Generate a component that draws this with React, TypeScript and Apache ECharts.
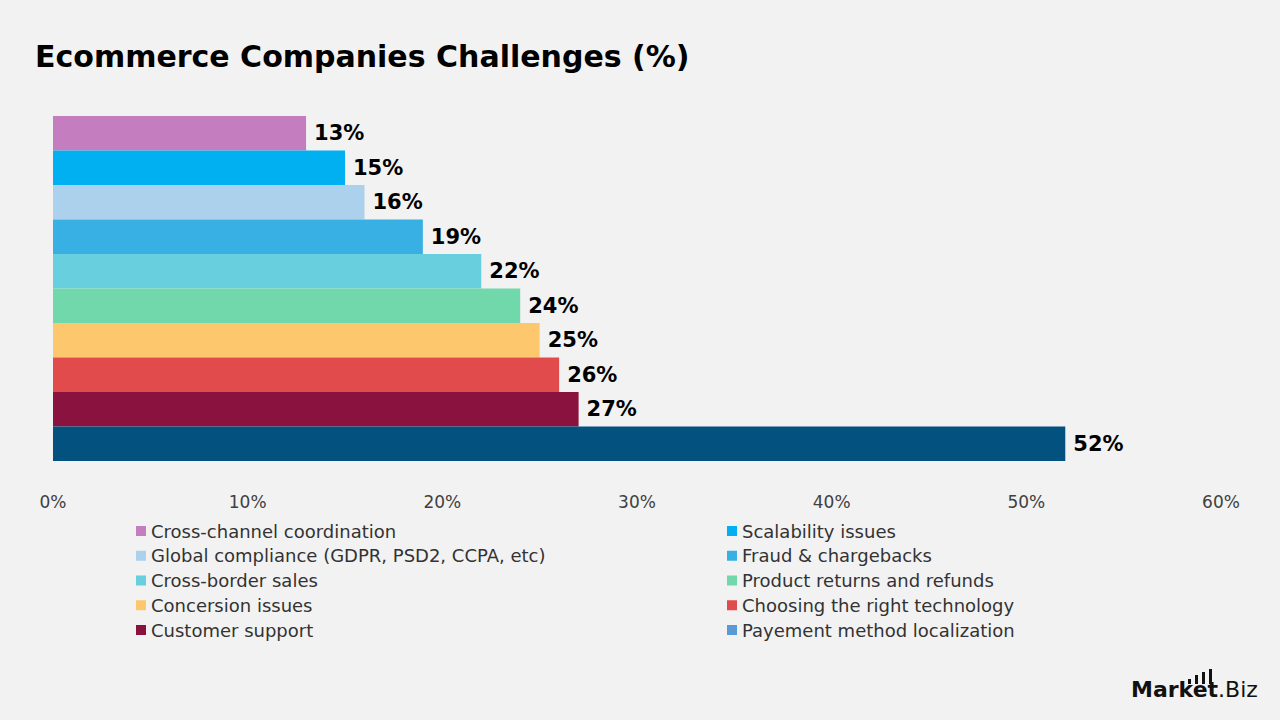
import React, { useEffect, useRef } from "react";
import * as echarts from "echarts";

const categories = [
  "Cross-channel coordination",
  "Scalability issues",
  "Global compliance (GDPR, PSD2, CCPA, etc)",
  "Fraud & chargebacks",
  "Cross-border sales",
  "Product returns and refunds",
  "Concersion issues",
  "Choosing the right technology",
  "Customer support",
  "Payement method localization",
];
const values = [13, 15, 16, 19, 22, 24, 25, 26, 27, 52];
const barColors = [
  "#c47dbf",
  "#00b0f0",
  "#abd1ec",
  "#38b0e3",
  "#67cfdd",
  "#71d8ab",
  "#fdc76d",
  "#e24b4b",
  "#8a123e",
  "#02517f",
];
const legendColors = [
  "#c47dbf",
  "#00b0f0",
  "#abd1ec",
  "#38b0e3",
  "#67cfdd",
  "#71d8ab",
  "#fdc76d",
  "#e24b4b",
  "#8a123e",
  "#5b9bd5",
];
const xTicks = [0, 10, 20, 30, 40, 50, 60];

const FONT = "'DejaVu Sans', sans-serif";

export default function App() {
  const ref = useRef<HTMLDivElement>(null);
  useEffect(() => {
    if (!ref.current) return;
    const chart = echarts.init(ref.current, null, { renderer: "svg" });
    const legendItem = (i: number) => ({
      name: categories[i],
      itemStyle: { color: legendColors[i] },
    });
    const legendBase = {
      orient: "vertical",
      top: 521,
      padding: 0,
      icon: "rect",
      itemWidth: 10,
      itemHeight: 10,
      itemGap: 4.75,
      selectedMode: false,
      textStyle: {
        fontFamily: FONT,
        fontSize: 18,
        color: "#333333",
        lineHeight: 20,
      },
    };
    chart.setOption({
      animation: false,
      backgroundColor: "#f2f2f2",
      title: {
        text: "Ecommerce Companies Challenges (%)",
        left: 35,
        top: 41,
        padding: 0,
        textStyle: {
          fontFamily: FONT,
          fontSize: 30,
          fontWeight: "bold",
          color: "#000000",
        },
      },
      legend: [
        {
          ...legendBase,
          left: 136,
          data: [0, 2, 4, 6, 8].map(legendItem),
        },
        {
          ...legendBase,
          left: 727,
          data: [1, 3, 5, 7, 9].map(legendItem),
        },
      ],
      grid: { left: 53, right: 59, top: 116, bottom: 259, containLabel: false },
      xAxis: {
        type: "value",
        min: xTicks[0],
        max: xTicks[xTicks.length - 1],
        interval: 10,
        splitLine: { show: false },
        axisLine: { show: false },
        axisTick: { show: false },
        axisLabel: {
          formatter: "{value}%",
          margin: 32,
          fontFamily: FONT,
          fontSize: 17,
          color: "#404040",
        },
      },
      yAxis: {
        type: "category",
        data: ["All"],
        inverse: true,
        show: false,
      },
      series: categories.map((name, i) => ({
        type: "bar",
        name,
        data: [values[i]],
        barGap: "0%",
        barCategoryGap: "0%",
        itemStyle: { color: barColors[i] },
        label: {
          show: true,
          position: "right",
          distance: 8,
          formatter: "{c}%",
          fontFamily: FONT,
          fontSize: 21,
          fontWeight: "bold",
          color: "#000000",
        },
      })),
      graphic: [
        {
          type: "text",
          left: 1131,
          top: 678,
          style: {
            text: "{b|Market}{n|.Biz}",
            rich: {
              b: { fontFamily: FONT, fontSize: 22, fontWeight: "bold", fill: "#111111" },
              n: { fontFamily: FONT, fontSize: 22, fill: "#111111" },
            },
          },
        },
        { type: "rect", shape: { x: 1188, y: 679, width: 3, height: 5 }, style: { fill: "#111111" } },
        { type: "rect", shape: { x: 1195, y: 675, width: 3, height: 9 }, style: { fill: "#111111" } },
        { type: "rect", shape: { x: 1202, y: 672, width: 3, height: 12 }, style: { fill: "#111111" } },
        { type: "rect", shape: { x: 1209, y: 669, width: 3, height: 15 }, style: { fill: "#111111" } },
      ],
    });
    return () => chart.dispose();
  }, []);
  return (
    <div
      ref={ref}
      style={{ position: "fixed", left: 0, top: 0, width: 1280, height: 720 }}
    />
  );
}
